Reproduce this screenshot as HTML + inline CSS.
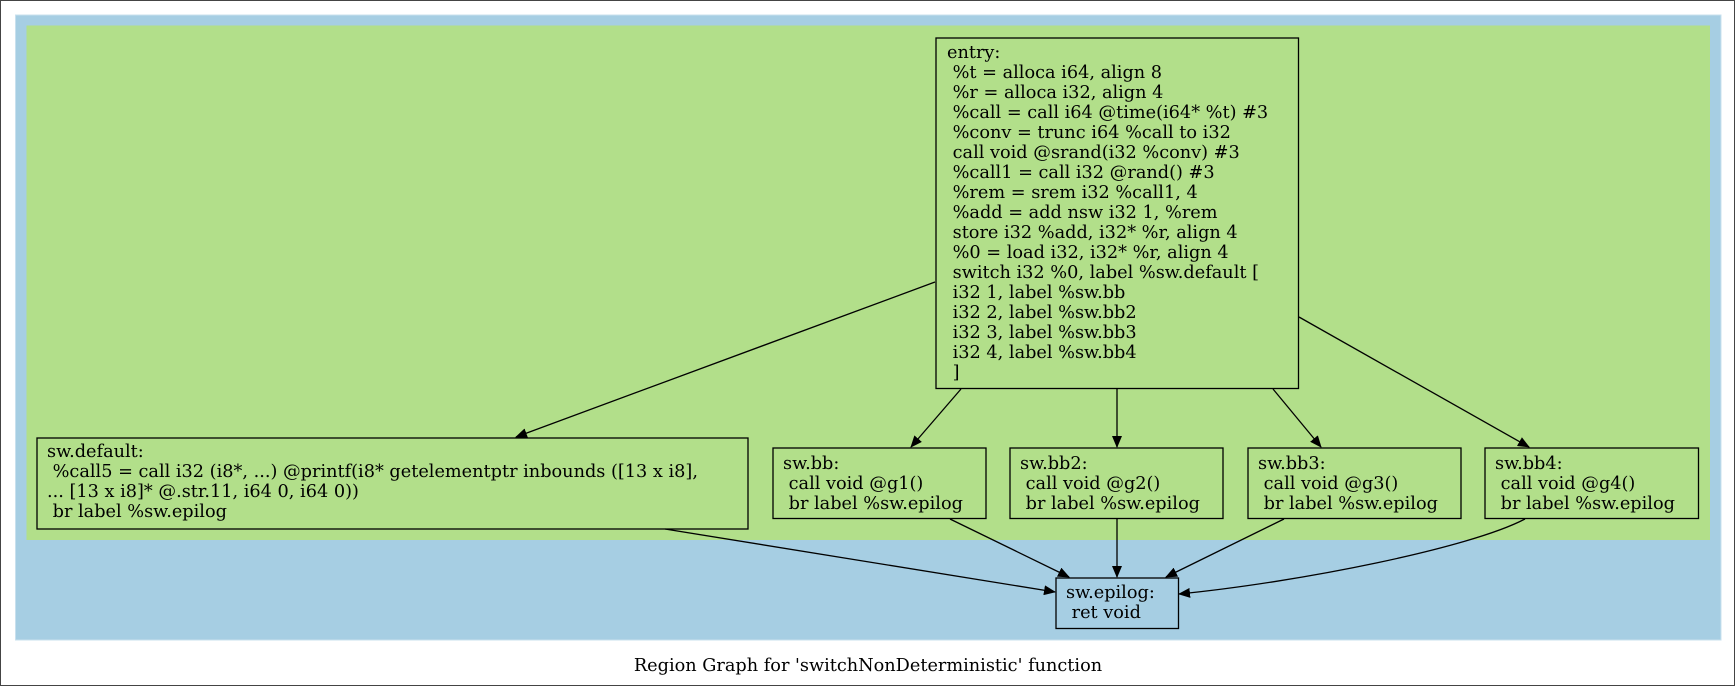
<!DOCTYPE html>
<html><head><meta charset="utf-8"><style>
html,body{margin:0;padding:0;background:#fff;}
svg{display:block;}
text{font-family:"DejaVu Serif","Liberation Serif",serif;font-size:17.7px;fill:#000;white-space:pre;}
</style></head><body>
<svg width="1736" height="687" viewBox="0 0 1736 687" xmlns="http://www.w3.org/2000/svg">
<defs><marker id="a" markerWidth="12" markerHeight="10" refX="11" refY="5" orient="auto" markerUnits="userSpaceOnUse"><path d="M0,0 L12,5 L0,10 z" fill="#000"/></marker></defs>
<rect x="0.5" y="0.5" width="1734" height="685" fill="#fff" stroke="#444"/>
<rect x="15.5" y="15" width="1705.5" height="625" fill="#a6cee3" stroke="#c8e0ee"/>
<rect x="26.5" y="25.5" width="1683.5" height="514.5" fill="#b2df8a"/>
<g stroke="#000" stroke-width="1.3" fill="none">
<rect x="936" y="38" width="362.5" height="350.5" fill="#b2df8a"/>
<rect x="37" y="438" width="711" height="91" fill="#b2df8a"/>
<rect x="773" y="448" width="213" height="70.5" fill="#b2df8a"/>
<rect x="1010" y="448" width="213" height="70.5" fill="#b2df8a"/>
<rect x="1248" y="448" width="213" height="70.5" fill="#b2df8a"/>
<rect x="1485" y="448" width="213.5" height="70.5" fill="#b2df8a"/>
<rect x="1056" y="578" width="122.5" height="50.5" fill="#a6cee3"/>
<path d="M935,282 L516,437" marker-end="url(#a)"/>
<path d="M961,389 L911,447" marker-end="url(#a)"/>
<path d="M1117,389 L1117,447" marker-end="url(#a)"/>
<path d="M1273,389 L1321,447" marker-end="url(#a)"/>
<path d="M1299,317 L1529,447" marker-end="url(#a)"/>
<path d="M665,529 L1055,592" marker-end="url(#a)"/>
<path d="M950,519 L1069,577" marker-end="url(#a)"/>
<path d="M1117,519 L1117,577" marker-end="url(#a)"/>
<path d="M1284,519 L1166,577" marker-end="url(#a)"/>
<path d="M1525,519 C1470,548 1300,582 1179,594" marker-end="url(#a)"/>
</g>
<text x="947" y="58">entry:</text>
<text x="947" y="78"> %t = alloca i64, align 8</text>
<text x="947" y="98"> %r = alloca i32, align 4</text>
<text x="947" y="118"> %call = call i64 @time(i64* %t) #3</text>
<text x="947" y="138"> %conv = trunc i64 %call to i32</text>
<text x="947" y="158"> call void @srand(i32 %conv) #3</text>
<text x="947" y="178"> %call1 = call i32 @rand() #3</text>
<text x="947" y="198"> %rem = srem i32 %call1, 4</text>
<text x="947" y="218"> %add = add nsw i32 1, %rem</text>
<text x="947" y="238"> store i32 %add, i32* %r, align 4</text>
<text x="947" y="258"> %0 = load i32, i32* %r, align 4</text>
<text x="947" y="278"> switch i32 %0, label %sw.default [</text>
<text x="947" y="298"> i32 1, label %sw.bb</text>
<text x="947" y="318"> i32 2, label %sw.bb2</text>
<text x="947" y="338"> i32 3, label %sw.bb3</text>
<text x="947" y="358"> i32 4, label %sw.bb4</text>
<text x="947" y="378"> ]</text>
<text x="47" y="457">sw.default:</text>
<text x="47" y="477"> %call5 = call i32 (i8*, ...) @printf(i8* getelementptr inbounds ([13 x i8],</text>
<text x="47" y="497">... [13 x i8]* @.str.11, i64 0, i64 0))</text>
<text x="47" y="517"> br label %sw.epilog</text>
<text x="783" y="469">sw.bb:</text>
<text x="783" y="489"> call void @g1()</text>
<text x="783" y="509"> br label %sw.epilog</text>
<text x="1020" y="469">sw.bb2:</text>
<text x="1020" y="489"> call void @g2()</text>
<text x="1020" y="509"> br label %sw.epilog</text>
<text x="1258" y="469">sw.bb3:</text>
<text x="1258" y="489"> call void @g3()</text>
<text x="1258" y="509"> br label %sw.epilog</text>
<text x="1495" y="469">sw.bb4:</text>
<text x="1495" y="489"> call void @g4()</text>
<text x="1495" y="509"> br label %sw.epilog</text>
<text x="1066" y="598">sw.epilog:</text>
<text x="1066" y="618"> ret void</text>
<text x="868" y="671" text-anchor="middle">Region Graph for 'switchNonDeterministic' function</text>
</svg>
</body></html>
